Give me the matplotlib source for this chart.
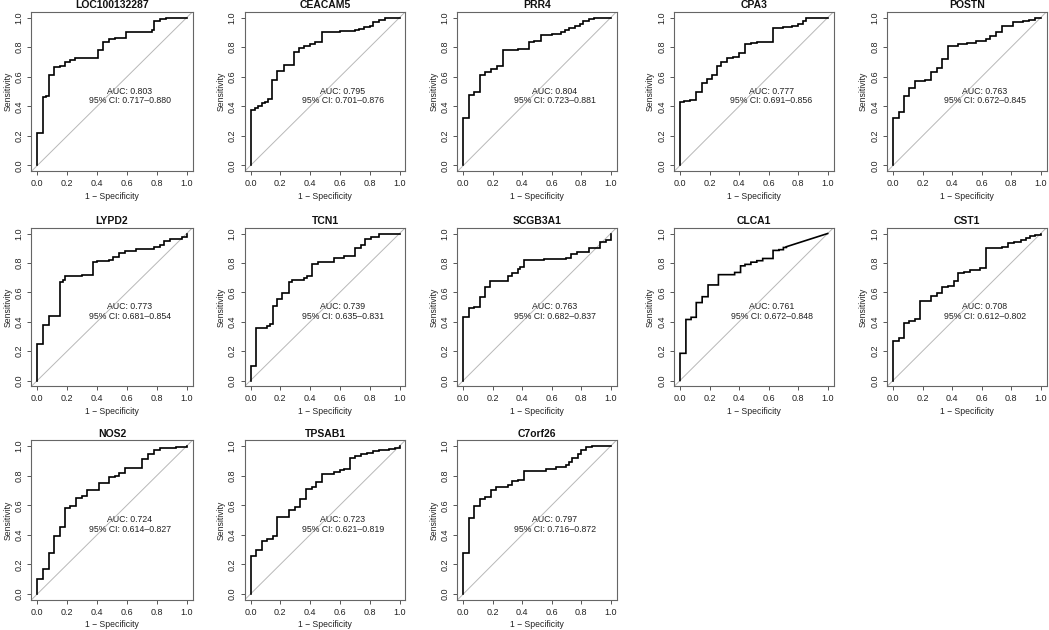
import matplotlib
matplotlib.use("Agg")
import matplotlib.pyplot as plt

plt.rcParams["font.family"] = ["Liberation Sans", "DejaVu Sans"]

# gene panels (fpr, tpr jump points)

genes = [
    "LOC100132287", "CEACAM5", "PRR4", "CPA3", "POSTN",
    "LYPD2", "TCN1", "SCGB3A1", "CLCA1", "CST1",
    "NOS2", "TPSAB1", "C7orf26",
]

auc = [
    "0.803", "0.795", "0.804", "0.777", "0.763",
    "0.773", "0.739", "0.763", "0.761", "0.708",
    "0.724", "0.723", "0.797",
]

ci = [
    "0.717–0.880", "0.701–0.876", "0.723–0.881", "0.691–0.856", "0.672–0.845",
    "0.681–0.854", "0.635–0.831", "0.682–0.837", "0.672–0.848", "0.612–0.802",
    "0.614–0.827", "0.621–0.819", "0.716–0.872",
]

fpr_loc = [0, 0, 0.037, 0.06, 0.075, 0.11, 0.15, 0.185, 0.22, 0.255, 0.405, 0.44, 0.48, 0.52, 0.595, 0.77, 0.78, 0.82, 0.86, 1.0]
tpr_loc = [0, 0.22, 0.46, 0.47, 0.61, 0.665, 0.672, 0.70, 0.715, 0.725, 0.78, 0.835, 0.855, 0.865, 0.905, 0.915, 0.98, 0.99, 1.0, 1.0]

fpr_cea = [0, 0, 0.03, 0.05, 0.08, 0.10, 0.12, 0.147, 0.18, 0.222, 0.294, 0.323, 0.36, 0.40, 0.43, 0.48, 0.60, 0.70, 0.73, 0.76, 0.80, 0.82, 0.86, 0.90, 0.94, 1.0]
tpr_cea = [0, 0.375, 0.39, 0.40, 0.42, 0.43, 0.45, 0.58, 0.64, 0.68, 0.77, 0.795, 0.81, 0.82, 0.835, 0.905, 0.91, 0.915, 0.925, 0.935, 0.945, 0.97, 0.985, 0.995, 1.0, 1.0]

fpr_prr = [0, 0, 0.04, 0.075, 0.11, 0.15, 0.19, 0.23, 0.266, 0.37, 0.40, 0.443, 0.48, 0.525, 0.60, 0.66, 0.69, 0.72, 0.76, 0.79, 0.81, 0.85, 0.89, 1.0]
tpr_prr = [0, 0.32, 0.48, 0.50, 0.61, 0.63, 0.65, 0.67, 0.78, 0.785, 0.79, 0.835, 0.845, 0.88, 0.89, 0.90, 0.915, 0.93, 0.945, 0.955, 0.975, 0.99, 1.0, 1.0]

fpr_cpa = [0, 0, 0.03, 0.07, 0.11, 0.15, 0.18, 0.22, 0.25, 0.28, 0.32, 0.36, 0.40, 0.44, 0.48, 0.52, 0.63, 0.70, 0.76, 0.80, 0.83, 0.855, 1.0]
tpr_cpa = [0, 0.43, 0.435, 0.445, 0.50, 0.555, 0.585, 0.61, 0.67, 0.70, 0.725, 0.735, 0.76, 0.82, 0.83, 0.835, 0.93, 0.935, 0.94, 0.955, 0.98, 1.0, 1.0]

fpr_pos = [0, 0, 0.04, 0.075, 0.11, 0.15, 0.22, 0.26, 0.30, 0.33, 0.37, 0.44, 0.50, 0.56, 0.63, 0.66, 0.70, 0.74, 0.78, 0.81, 0.88, 0.92, 0.96, 1.0]
tpr_pos = [0, 0.32, 0.36, 0.47, 0.525, 0.57, 0.575, 0.63, 0.66, 0.72, 0.81, 0.82, 0.83, 0.845, 0.855, 0.875, 0.905, 0.94, 0.945, 0.97, 0.975, 0.985, 0.995, 1.0]

fpr_lyp = [0, 0, 0.04, 0.075, 0.15, 0.17, 0.185, 0.30, 0.37, 0.40, 0.48, 0.51, 0.55, 0.59, 0.66, 0.78, 0.82, 0.85, 0.89, 0.93, 0.97, 1.0, 1.0]
tpr_lyp = [0, 0.25, 0.375, 0.44, 0.67, 0.685, 0.71, 0.72, 0.805, 0.81, 0.82, 0.84, 0.865, 0.88, 0.895, 0.91, 0.92, 0.95, 0.96, 0.965, 0.975, 0.98, 1.0]

fpr_tcn = [0, 0, 0.04, 0.11, 0.13, 0.15, 0.18, 0.21, 0.26, 0.28, 0.36, 0.38, 0.41, 0.45, 0.56, 0.63, 0.70, 0.74, 0.77, 0.81, 0.86, 1.0]
tpr_tcn = [0, 0.10, 0.36, 0.37, 0.385, 0.51, 0.555, 0.595, 0.67, 0.685, 0.70, 0.71, 0.795, 0.805, 0.835, 0.845, 0.90, 0.925, 0.96, 0.975, 1.0, 1.0]

fpr_scg = [0, 0, 0.04, 0.075, 0.11, 0.15, 0.18, 0.26, 0.30, 0.33, 0.37, 0.385, 0.41, 0.55, 0.70, 0.73, 0.77, 0.85, 0.93, 0.97, 1.0, 1.0]
tpr_scg = [0, 0.435, 0.49, 0.50, 0.57, 0.635, 0.675, 0.68, 0.71, 0.73, 0.76, 0.775, 0.82, 0.825, 0.83, 0.86, 0.875, 0.90, 0.945, 0.955, 0.955, 1.0]

fpr_clc = [0, 0, 0.04, 0.075, 0.11, 0.15, 0.19, 0.26, 0.37, 0.41, 0.44, 0.48, 0.52, 0.56, 0.63, 0.67, 0.70, 0.72, 1.0]
tpr_clc = [0, 0.185, 0.415, 0.43, 0.53, 0.57, 0.65, 0.72, 0.735, 0.78, 0.79, 0.805, 0.815, 0.83, 0.885, 0.89, 0.905, 0.91, 1.0]

fpr_cst = [0, 0, 0.04, 0.075, 0.11, 0.15, 0.185, 0.26, 0.30, 0.33, 0.37, 0.41, 0.44, 0.48, 0.52, 0.55, 0.59, 0.63, 0.74, 0.78, 0.82, 0.87, 0.90, 0.93, 0.96, 1.0]
tpr_cst = [0, 0.27, 0.29, 0.39, 0.405, 0.415, 0.54, 0.575, 0.595, 0.635, 0.645, 0.68, 0.73, 0.735, 0.75, 0.755, 0.765, 0.90, 0.91, 0.935, 0.945, 0.955, 0.97, 0.98, 0.99, 1.0]

fpr_nos = [0, 0, 0.04, 0.075, 0.11, 0.15, 0.185, 0.22, 0.26, 0.30, 0.33, 0.41, 0.48, 0.52, 0.55, 0.59, 0.70, 0.74, 0.78, 0.82, 0.93, 0.96, 1.0]
tpr_nos = [0, 0.10, 0.17, 0.28, 0.39, 0.455, 0.58, 0.595, 0.65, 0.665, 0.70, 0.75, 0.79, 0.80, 0.82, 0.85, 0.915, 0.945, 0.975, 0.985, 0.99, 0.995, 1.0]

fpr_tps = [0, 0, 0.04, 0.075, 0.11, 0.15, 0.18, 0.26, 0.30, 0.33, 0.37, 0.41, 0.44, 0.48, 0.56, 0.60, 0.63, 0.67, 0.70, 0.74, 0.78, 0.82, 0.86, 0.90, 0.93, 0.97, 1.0]
tpr_tps = [0, 0.255, 0.30, 0.36, 0.37, 0.39, 0.52, 0.565, 0.59, 0.64, 0.71, 0.72, 0.76, 0.81, 0.825, 0.835, 0.845, 0.92, 0.93, 0.945, 0.955, 0.965, 0.97, 0.975, 0.98, 0.985, 1.0]

fpr_c7o = [0, 0, 0.04, 0.075, 0.11, 0.15, 0.185, 0.22, 0.30, 0.33, 0.37, 0.41, 0.56, 0.63, 0.70, 0.72, 0.74, 0.78, 0.80, 0.83, 0.87, 1.0]
tpr_c7o = [0, 0.275, 0.515, 0.595, 0.64, 0.655, 0.705, 0.72, 0.735, 0.765, 0.77, 0.83, 0.845, 0.86, 0.87, 0.89, 0.92, 0.945, 0.97, 0.99, 1.0, 1.0]

fprs = [fpr_loc, fpr_cea, fpr_prr, fpr_cpa, fpr_pos, fpr_lyp, fpr_tcn,
        fpr_scg, fpr_clc, fpr_cst, fpr_nos, fpr_tps, fpr_c7o]
tprs = [tpr_loc, tpr_cea, tpr_prr, tpr_cpa, tpr_pos, tpr_lyp, tpr_tcn,
        tpr_scg, tpr_clc, tpr_cst, tpr_nos, tpr_tps, tpr_c7o]

# last segments drawn straight (tied scores)
straight_tail = {"CLCA1": 1}

W, H = 1049, 630

# pixel position of data 0 / 1 for each column and row
col_x0 = [37.3, 250.5, 463.3, 680.0, 893.0]
col_x1 = [186.7, 399.5, 610.7, 827.7, 1040.7]
row_y1 = [17.6, 233.5, 446.0]
row_y0 = [165.5, 380.5, 594.0]


def staircase(fpr, tpr, n_straight=0):
    xs = [fpr[0]]
    ys = [tpr[0]]
    n = len(fpr)
    for i in range(1, n):
        if i < n - n_straight:
            xs.append(fpr[i])
            ys.append(tpr[i - 1])
        xs.append(fpr[i])
        ys.append(tpr[i])
    return xs, ys


fig = plt.figure(figsize=(W / 100, H / 100), dpi=100)

for k, gene in enumerate(genes):

    row = k // 5
    col = k % 5

    sx = col_x1[col] - col_x0[col]
    sy = row_y0[row] - row_y1[row]

    left = col_x0[col] - 0.04 * sx
    right = col_x1[col] + 0.04 * sx
    top = row_y1[row] - 0.04 * sy
    bottom = row_y0[row] + 0.04 * sy

    ax = fig.add_axes([
        left / W,
        1 - bottom / H,
        (right - left) / W,
        (bottom - top) / H
    ])

    ax.set_xlim(-0.04, 1.04)
    ax.set_ylim(-0.04, 1.04)

    ax.axline((0, 0), (1, 1), color="#b8b8b8", lw=0.7, zorder=1)

    xs, ys = staircase(fprs[k], tprs[k], straight_tail.get(gene, 0))

    ax.plot(xs, ys, color="black", lw=1.2, zorder=3,
            solid_joinstyle="miter")

    ax.text(
        0.62, 0.47,
        f"AUC: {auc[k]}\n95% CI: {ci[k]}",
        ha="center", va="center",
        fontsize=6.3, color="#222222",
        linespacing=1.05
    )

    ticks = [0, 0.2, 0.4, 0.6, 0.8, 1.0]
    labels = [f"{t:.1f}" for t in ticks]

    ax.set_xticks(ticks)
    ax.set_xticklabels(labels)
    ax.set_yticks(ticks)
    ax.set_yticklabels(labels, rotation=90, va="center")

    ax.tick_params(
        length=3.2, width=0.7, pad=2.5,
        labelsize=6.5, color="#555555", labelcolor="#222222"
    )

    for sp in ax.spines.values():
        sp.set_color("#666666")
        sp.set_linewidth(0.8)

    ax.set_title(gene, fontsize=7.5, fontweight="bold", pad=2.5,
                 color="#111111")

    ax.set_xlabel("1 − Specificity", fontsize=6.2, labelpad=2.5,
                  color="#222222")
    ax.set_ylabel("Sensitivity", fontsize=6.2, labelpad=1.5,
                  color="#222222")

fig.savefig("out.png", dpi=100)
